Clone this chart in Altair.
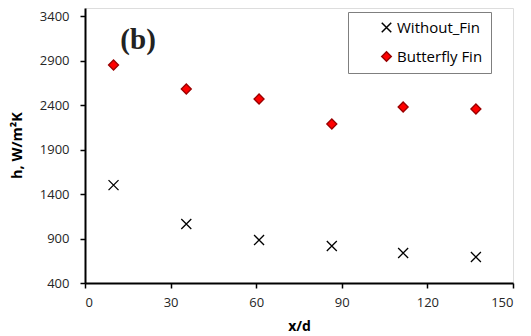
import altair as alt
import pandas as pd

series_names = ["Without_Fin", "Butterfly Fin"]
x_vals = [10, 35.5, 61, 86.5, 111.5, 137]
without_fin = [1500, 1063, 883, 816, 737, 692]
butterfly_fin = [2850, 2580, 2467, 2187, 2378, 2355]

x_ticks = [0, 30, 60, 90, 120, 150]
y_ticks = [400, 900, 1400, 1900, 2400, 2900, 3400]

panel_label = ["(b)"]
panel_x = [18.6]
panel_y = [3130]

rows = []
for x, v in zip(x_vals, without_fin):
    rows.append({"x": x, "h": v, "series": series_names[0]})
for x, v in zip(x_vals, butterfly_fin):
    rows.append({"x": x, "h": v, "series": series_names[1]})
df = pd.DataFrame(rows)
lab = pd.DataFrame({"label": panel_label, "x": panel_x, "y": panel_y})

FONT = "Open Sans"

xscale = alt.Scale(domain=[0, 150], nice=False, zero=False)
yscale = alt.Scale(domain=[400, 3490], nice=False, zero=False)

xaxis = alt.Axis(values=x_ticks, title="x/d", titleFontWeight="bold",
                 titleFont=FONT, titleFontSize=14, titleColor="black",
                 titleY=36, labelFont=FONT, labelFontSize=13, labelColor="#262626",
                 labelPadding=8, tickSize=5, tickColor="black", tickWidth=1.5,
                 domainColor="black", domainWidth=2, grid=False, format="d")
yaxis = alt.Axis(values=y_ticks, title="h, W/m²K", titleFontWeight="bold",
                 titleFont=FONT, titleFontSize=14.5, titleColor="black",
                 titleX=-68, titleY=137, titleAngle=-90, titleBaseline="middle",
                 labelFont=FONT, labelFontSize=13, labelColor="#262626",
                 labelPadding=11, tickSize=5, tickColor="black", tickWidth=1.5,
                 domainColor="black", domainWidth=2, grid=False, format="d")

legend = alt.Legend(title=None, orient="none", legendX=263, legendY=4,
                    labelFont=FONT, labelFontSize=15, labelColor="black",
                    fillColor="white", strokeColor="#7f7f7f",
                    padding=8, rowPadding=12, symbolOffset=23, labelOffset=3,
                    symbolSize=90, labelLimit=400)

points = alt.Chart(df).mark_point(opacity=1, size=100, strokeWidth=1.3).encode(
    x=alt.X("x:Q", scale=xscale, axis=xaxis),
    y=alt.Y("h:Q", scale=yscale, axis=yaxis),
    shape=alt.Shape("series:N", scale=alt.Scale(domain=series_names,
                    range=["M-1,-1L1,1M-1,1L1,-1", "diamond"]), legend=legend),
    fill=alt.Fill("series:N", scale=alt.Scale(domain=series_names,
                  range=["transparent", "#ff0000"]), legend=legend),
    stroke=alt.Stroke("series:N", scale=alt.Scale(domain=series_names,
                      range=["black", "#9a0000"]), legend=legend),
)

text = alt.Chart(lab).mark_text(font="Liberation Serif", fontWeight="bold",
                                 fontSize=29, color="#222222").encode(
    x=alt.X("x:Q", scale=xscale),
    y=alt.Y("y:Q", scale=yscale),
    text="label:N",
)

chart = alt.layer(points, text).properties(
    width=428, height=275,
    autosize=alt.AutoSizeParams(type="none"),
    padding={"left": 85, "top": 8, "right": 18, "bottom": 53},
).configure_view(stroke="black", strokeWidth=1.5).configure(background="white")

chart.save("out.html", embed_options={"renderer": "svg", "actions": False})
